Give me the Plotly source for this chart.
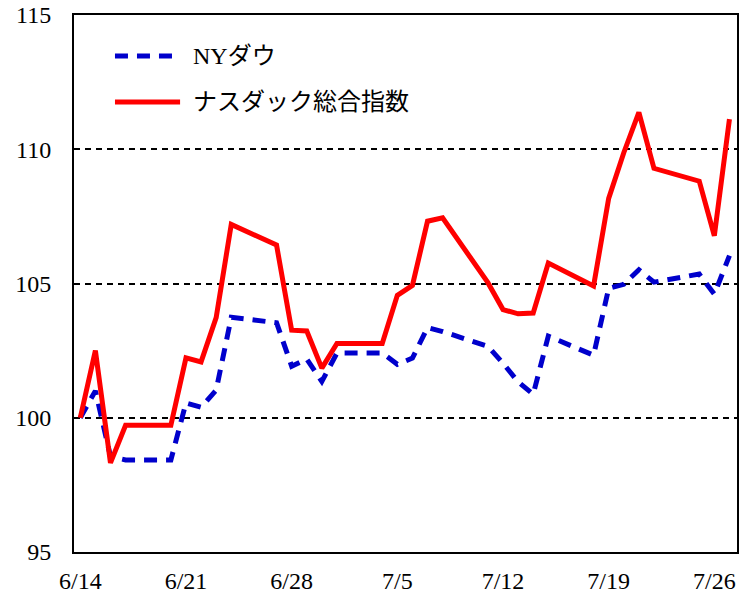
import plotly.graph_objects as go

dates = ["2022-06-14", "2022-06-15", "2022-06-16", "2022-06-17", "2022-06-20",
         "2022-06-21", "2022-06-22", "2022-06-23", "2022-06-24", "2022-06-27",
         "2022-06-28", "2022-06-29", "2022-06-30", "2022-07-01", "2022-07-04",
         "2022-07-05", "2022-07-06", "2022-07-07", "2022-07-08", "2022-07-11",
         "2022-07-12", "2022-07-13", "2022-07-14", "2022-07-15", "2022-07-18",
         "2022-07-19", "2022-07-20", "2022-07-21", "2022-07-22", "2022-07-25",
         "2022-07-26", "2022-07-27"]

ny_dow = [100.00, 101.00, 98.56, 98.43, 98.43,
          100.55, 100.39, 101.03, 103.74, 103.54,
          101.92, 102.19, 101.35, 102.41, 102.41,
          101.99, 102.22, 103.36, 103.21, 102.66,
          102.03, 101.34, 100.87, 103.04, 102.33,
          104.82, 104.97, 105.51, 105.05, 105.35,
          104.60, 106.04]

nasdaq = [100.00, 102.50, 98.32, 99.72, 99.72,
          102.23, 102.08, 103.73, 107.20, 106.43,
          103.26, 103.23, 101.85, 102.77, 102.77,
          104.56, 104.93, 107.32, 107.45, 105.03,
          104.03, 103.87, 103.90, 105.76, 104.91,
          108.17, 109.87, 111.37, 109.29, 108.81,
          106.78, 111.12]

series_names = ["NYダウ", "ナスダック総合指数"]
x_tick_vals = ["2022-06-14", "2022-06-21", "2022-06-28", "2022-07-05",
               "2022-07-12", "2022-07-19", "2022-07-26"]
x_tick_text = ["6/14", "6/21", "6/28", "7/5", "7/12", "7/19", "7/26"]
y_tick_vals = [95, 100, 105, 110, 115]

BLUE = "#0000CC"
RED = "#FF0000"
NUM_FONT = "Liberation Serif, Times New Roman, serif"
JP_FONT = "Liberation Serif, Noto Sans CJK JP, serif"

fig = go.Figure()
fig.add_trace(go.Scatter(x=dates, y=ny_dow, mode="lines", name=series_names[0],
                         line=dict(color=BLUE, width=5, dash="13px,9px"),
                         showlegend=False))
fig.add_trace(go.Scatter(x=dates, y=nasdaq, mode="lines", name=series_names[1],
                         line=dict(color=RED, width=5),
                         showlegend=False))

# manual legend (paper coordinates)
legend_rows = [(0.9236, dict(color=BLUE, width=5, dash="13px,9px")),
               (0.8380, dict(color=RED, width=5))]
for (yy, ln), name in zip(legend_rows, series_names):
    fig.add_shape(type="line", xref="paper", yref="paper",
                  x0=0.0618, x1=0.160, y0=yy, y1=yy, line=ln)
    fig.add_annotation(xref="paper", yref="paper", x=0.176, y=yy,
                       text=name, showarrow=False, xanchor="left", yanchor="middle",
                       font=dict(family=JP_FONT, size=24, color="#000000"))

fig.update_layout(
    width=742, height=595,
    margin=dict(l=74, r=5, t=15, b=43),
    paper_bgcolor="white", plot_bgcolor="white",
    font=dict(family=NUM_FONT, size=24, color="#000000"),
)
fig.update_xaxes(
    type="date", automargin=False,
    range=["2022-06-13 14:00", "2022-07-27 12:00"],
    tickmode="array", tickvals=x_tick_vals, ticktext=x_tick_text,
    showgrid=False, zeroline=False,
    showline=True, linecolor="black", linewidth=2, mirror=True,
    ticks="", ticklabelstandoff=6,
    tickfont=dict(family=NUM_FONT, size=24, color="black"),
)
fig.update_yaxes(
    range=[95, 115], automargin=False,
    tickmode="array", tickvals=y_tick_vals,
    showgrid=True, gridcolor="black", gridwidth=1.5, griddash="6px,5px",
    zeroline=False,
    showline=True, linecolor="black", linewidth=2, mirror=True,
    ticks="", ticklabelstandoff=16,
    tickfont=dict(family=NUM_FONT, size=24, color="black"),
)

fig.write_html("out.html", config={"displayModeBar": False},
               post_script="document.body.style.margin='0';document.body.style.overflow='hidden';")
